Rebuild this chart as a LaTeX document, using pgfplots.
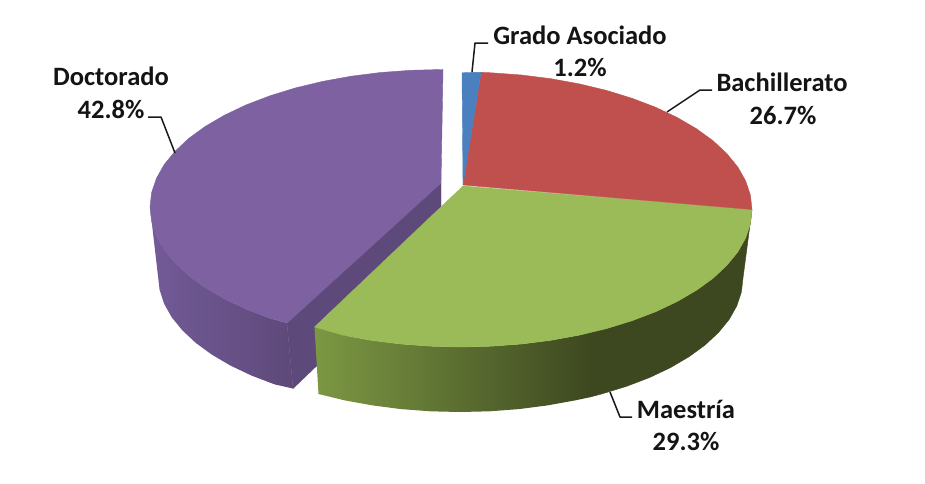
\documentclass[border=0pt]{standalone}
\usepackage{pgfplots}
\pgfplotsset{compat=1.18}
\usepackage{fontspec}
\setmainfont{Carlito}
\definecolor{pTop}{HTML}{7E61A0}
\definecolor{pWall}{HTML}{5E4A7A}
\definecolor{rTop}{HTML}{BF504D}
\definecolor{gTop}{HTML}{9BBB59}
\definecolor{bTop}{HTML}{4A80C0}
\definecolor{gA}{HTML}{7C9843}
\definecolor{gC}{HTML}{3D4820}
\definecolor{pA}{HTML}{725B97}
\definecolor{pB}{HTML}{5E497A}
\newcommand{\face}[2]{\addplot[fill=#1,draw=#1,line width=0.4pt,forget plot] coordinates {#2} -- cycle;}
\newcommand{\lead}[1]{\addplot[draw=black!90,line width=1.5pt,forget plot,line join=round] coordinates {#1};}
\newcommand{\lab}[3]{\node[anchor=base,inner sep=0pt,font=\fontsize{26.5}{26.5}\selectfont\bfseries,text=black!92] at (axis cs:#1,#2) {#3};}
\begin{document}
\begin{tikzpicture}
\begin{axis}[
  scale only axis, width=925pt, height=483pt,
  xmin=0, xmax=925, ymin=0, ymax=483, y dir=reverse,
  hide axis, clip=true]
% background
\face{white}{(0,0)(925,0)(925,483)(0,483)}
% Doctorado: inner wall
\face{pWall}{(441,183)(287,323)(293,388.5)(441,247)}
% Doctorado: outer wall, one face with a horizontal gradient
\addplot[draw=none,left color=pA,right color=pB,forget plot] coordinates {(150,207)(151.6,221.4)(156.4,235.6)(164.2,249.5)(175.2,262.9)(189,275.8)(205.6,287.8)(224.8,299)(246.3,309.2)(269.9,318.2)(287,323)(293,388.5)(274.7,384.4)(251.6,375.6)(230.7,365.7)(212.1,354.8)(195.9,343)(182.5,330.5)(171.8,317.4)(164.2,303.9)(159.6,290)(158,276)} -- cycle;
% Doctorado: top
\face{pTop}{(441,183)(443,69.6)(441,69.5)(410.6,70.3)(380.5,72.5)(351.1,76.2)(322.6,81.4)(295.5,87.9)(269.9,95.8)(246.3,104.8)(224.8,115)(205.6,126.2)(189,138.2)(175.2,151.1)(164.2,164.5)(156.4,178.4)(151.6,192.6)(150,207)(151.6,221.4)(156.4,235.6)(164.2,249.5)(175.2,262.9)(189,275.8)(205.6,287.8)(224.8,299)(246.3,309.2)(269.9,318.2)(287,323)}
% Maestria: outer wall, left part with a gradient, right part dark
\face{gC}{(590,332)(606.5,328.6)(632.1,320.7)(655.7,311.7)(677.2,301.5)(696.4,290.3)(713,278.3)(726.8,265.4)(737.8,252)(745.6,238.1)(750.4,223.9)(752,209.5)(743,278)(741.4,292)(736.8,305.9)(729.2,319.4)(718.5,332.5)(705.1,345)(688.9,356.8)(670.3,367.7)(649.4,377.6)(626.3,386.4)(601.5,394)(590,397)}
\addplot[draw=none,left color=gA,right color=gC,forget plot] coordinates {(314.5,327)(342.6,335.1)(371.1,340.3)(400.5,344)(430.6,346.2)(461,347)(491.4,346.2)(521.5,344)(550.9,340.3)(579.4,335.1)(591,332)(591,397)(575.1,400.4)(547.4,405.4)(518.8,409.1)(489.6,411.3)(460,412)(430.4,411.3)(401.2,409.1)(372.6,405.4)(344.9,400.4)(318.5,394)} -- cycle;
% Maestria: top
\face{gTop}{(463,186)(752,209.5)(750.4,223.9)(745.6,238.1)(737.8,252)(726.8,265.4)(713,278.3)(696.4,290.3)(677.2,301.5)(655.7,311.7)(632.1,320.7)(606.5,328.6)(579.4,335.1)(550.9,340.3)(521.5,344)(491.4,346.2)(461,347)(430.6,346.2)(400.5,344)(371.1,340.3)(342.6,335.1)(314.5,327)}
% Bachillerato: top
\face{rTop}{(463,185)(481,72.3)(491.4,72.8)(521.5,75)(550.9,78.7)(579.4,83.9)(606.5,90.4)(632.1,98.3)(655.7,107.3)(677.2,117.5)(696.4,128.7)(713,140.7)(726.8,153.6)(737.8,167)(745.6,180.9)(750.4,195.1)(752,209.5)}
% Grado Asociado: top
\face{bTop}{(463,185)(462,72.8)(472,72.4)(481,72.3)}
% leaders
\lead{(472,72)(475,43)(488,43)}
\lead{(667,112)(700,90)(712,90)}
\lead{(610,392)(620,417)(632,417)}
\lead{(175,153)(161,117)(148,117)}
% labels
\lab{580}{44}{Grado Asociado}
\lab{580}{76}{1.2\%}
\lab{782}{91}{Bachillerato}
\lab{783}{124}{26.7\%}
\lab{686}{418}{Maestría}
\lab{686}{450}{29.3\%}
\lab{111}{85}{Doctorado}
\lab{111}{118}{42.8\%}
\end{axis}
\end{tikzpicture}
\end{document}
